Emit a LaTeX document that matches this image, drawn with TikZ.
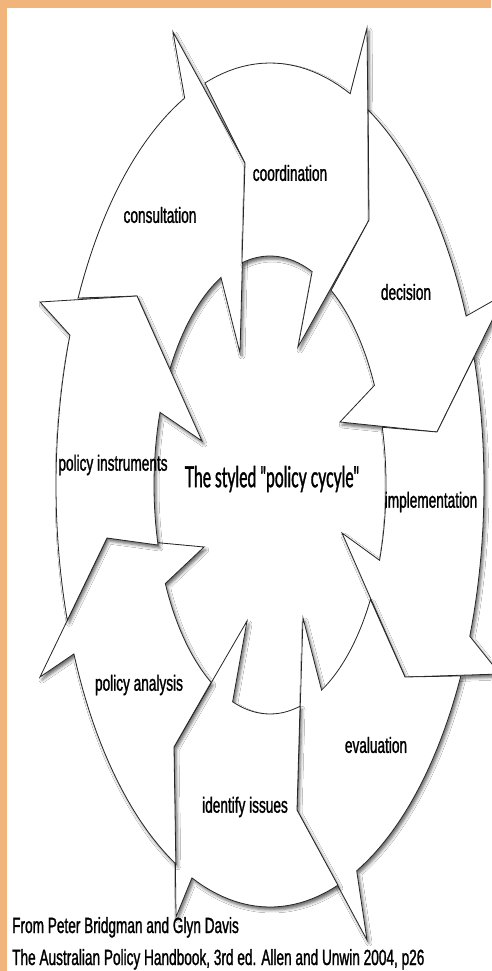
\documentclass[tikz,border=0pt]{standalone}
\usepackage{fontspec}
\usepackage{tikz}
\usetikzlibrary{shadows.blur}
\newfontfamily\lblfont[FakeStretch=0.62,FakeBold=1.2]{Liberation Sans}
\newfontfamily\titlefont[FakeStretch=0.54,FakeBold=1.2]{Lato}
\definecolor{frameOrange}{HTML}{F1B47B}
\colorlet{edgeGrey}{black!85}

\begin{document}
\begin{tikzpicture}[
  x=1pt, y=-1pt,
  declare function={ox(\t)=270+214*cos(\t); oy(\t)=485+422*sin(\t);
                    ix(\t)=270+116*cos(\t); iy(\t)=485+229*sin(\t);},
  cyclearrow/.style={
    draw=edgeGrey, fill=white, line width=0.8pt, line join=miter,
    blur shadow={shadow xshift=2pt, shadow yshift=-3pt,
                 shadow blur radius=3pt, shadow opacity=60}
  },
  steplabel/.style={font=\lblfont\fontsize{22}{24}\selectfont, inner sep=0pt},
  titletext/.style={font=\titlefont\fontsize{29}{32}\selectfont, inner sep=0pt},
  sourcetext/.style={steplabel, anchor=base west}
]
  \useasboundingbox (0,0) rectangle (491,971);
  \fill[frameOrange] (0,0) rectangle (491,971);
  \fill[white] (7,8) rectangle (491,971);

  % consultation
  \draw[cyclearrow] plot[domain=246.5:206.3, samples=24] ({ox(\x)},{oy(\x)})
    -- (137,296) -- plot[domain=210.2:245, samples=20] ({ix(\x)},{iy(\x)})
    -- (240,353) -- (245,163) -- (173,32) -- cycle;
  % coordination
  \draw[cyclearrow] plot[domain=292:252.3, samples=24] ({ox(\x)},{oy(\x)})
    -- (245,163) -- plot[domain=256:291.3, samples=20] ({ix(\x)},{iy(\x)})
    -- (298,347) -- (369,220) -- (367,28) -- cycle;
  % decision
  \draw[cyclearrow] plot[domain=336.4:297.3, samples=24] ({ox(\x)},{oy(\x)})
    -- (369,220) -- plot[domain=301.8:334.2, samples=20] ({ix(\x)},{iy(\x)})
    -- (340,422) -- (437,432) -- (505,294) -- cycle;
  % implementation
  \draw[cyclearrow] plot[domain=381:342.4, samples=24] ({ox(\x)},{oy(\x)})
    -- (437,432) -- plot[domain=345.4:379.2, samples=20] ({ix(\x)},{iy(\x)})
    -- (342,533) -- (405,677) -- (500,674) -- cycle;
  % evaluation
  \draw[cyclearrow] plot[domain=426.1:386.9, samples=24] ({ox(\x)},{oy(\x)})
    -- (405,677) -- plot[domain=390:423.6, samples=20] ({ix(\x)},{iy(\x)})
    -- (303,618) -- (297,810) -- (367,940) -- cycle;
  % identify issues
  \draw[cyclearrow] plot[domain=471.4:431.5, samples=24] ({ox(\x)},{oy(\x)})
    -- (297,810) -- plot[domain=435:468.8, samples=20] ({ix(\x)},{iy(\x)})
    -- (247,621) -- (174,747) -- (176,917) -- cycle;
  % policy analysis
  \draw[cyclearrow] plot[domain=516.4:476.1, samples=24] ({ox(\x)},{oy(\x)})
    -- (174,747) -- plot[domain=480.5:514.5, samples=20] ({ix(\x)},{iy(\x)})
    -- (204,547) -- (107,538) -- (40,677) -- cycle;
  % policy instruments
  \draw[cyclearrow] plot[domain=200.8:161.3, samples=24] ({ox(\x)},{oy(\x)})
    -- (107,538) -- plot[domain=164.8:198.5, samples=20] ({ix(\x)},{iy(\x)})
    -- (202,441) -- (137,296) -- (40,302) -- cycle;

  % labels
  \node[steplabel] (consult) at (160,215) {consultation};
  \node[steplabel] (coord) at (290,173) {coordination};
  \node[steplabel] (decide) at (406,292) {decision};
  \node[steplabel] (implement) at (431,502) {implementation};
  \node[steplabel] (evaluate) at (376,745) {evaluation};
  \node[steplabel] (issues) at (245,807) {identify issues};
  \node[steplabel] (analysis) at (139,685) {policy analysis};
  \node[steplabel] (instruments) at (113,465) {policy instruments};
  \node[titletext] (title) at (272,479) {The styled "policy cycyle"};

  % source
  \node[sourcetext] (src1) at (12,933) {From Peter Bridgman and Glyn Davis};
  \node[sourcetext] (src2) at (12,965) {The Australian Policy Handbook, 3rd ed. Allen and Unwin 2004, p26};
\end{tikzpicture}
\end{document}
